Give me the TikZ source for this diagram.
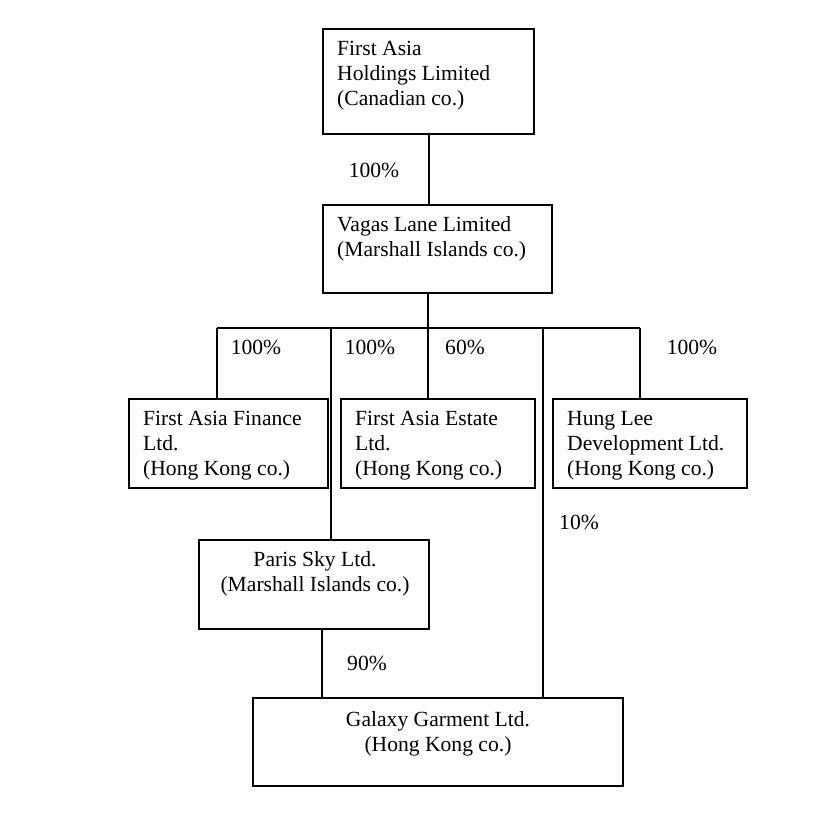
\documentclass[tikz,border=0pt]{standalone}
\usepackage{fontspec}
\setmainfont{Liberation Serif}
\begin{document}
\begin{tikzpicture}[x=1pt,y=-1pt,
  box/.style={draw,line width=2pt,inner sep=0pt,anchor=north west},
  txt/.style={inner sep=0pt,anchor=north west,align=left,font=\fontsize{21.6}{25}\selectfont},
  ctxt/.style={inner sep=0pt,anchor=north,align=center,font=\fontsize{21.6}{25}\selectfont},
  pct/.style={inner sep=0pt,font=\fontsize{21.6}{25}\selectfont},
  link/.style={line width=2pt}]
\useasboundingbox (0,0) rectangle (839,814);
% boxes
\node[box,minimum width=211,minimum height=105] (fah) at (322,28) {};
\node[box,minimum width=229,minimum height=88] (vll) at (322,204) {};
\node[box,minimum width=199,minimum height=89] (faf) at (128,398) {};
\node[box,minimum width=194,minimum height=89] (fae) at (340,398) {};
\node[box,minimum width=194,minimum height=89] (hld) at (552,398) {};
\node[box,minimum width=230,minimum height=89] (psl) at (198,539) {};
\node[box,minimum width=370,minimum height=88] (ggl) at (252,697) {};
% texts
\node[txt] (tfah) at ([shift={(15,10)}]fah.north west) {\strut First Asia\\Holdings Limited\\(Canadian co.)};
\node[txt] (tvll) at ([shift={(15,10)}]vll.north west) {\strut Vagas Lane Limited\\(Marshall Islands co.)};
\node[txt] (tfaf) at ([shift={(15,10)}]faf.north west) {\strut First Asia Finance\\Ltd.\\(Hong Kong co.)};
\node[txt] (tfae) at ([shift={(15,10)}]fae.north west) {\strut First Asia Estate\\Ltd.\\(Hong Kong co.)};
\node[txt] (thld) at ([shift={(15,10)}]hld.north west) {\strut Hung Lee\\Development Ltd.\\(Hong Kong co.)};
\node[ctxt] (tpsl) at ([shift={(1,10)}]psl.north) {\strut Paris Sky Ltd.\\(Marshall Islands co.)};
\node[ctxt] (tggl) at ([shift={(0,12)}]ggl.north) {\strut Galaxy Garment Ltd.\\(Hong Kong co.)};
% bus coordinates
\coordinate (top) at (428,292);
\coordinate (bus) at (428,328);
\coordinate (b1) at (217,328);
\coordinate (b2) at (331,328);
\coordinate (b4) at (543,328);
\coordinate (b5) at (640,328);
\coordinate (pb) at (322,628);
% connectors
\draw[link] (fah.south) -- (fah.south |- vll.north);
\draw[link] (top) -- (bus);
\draw[link] (b1) -- (b5);
\draw[link] (b1) -- (b1 |- faf.north);
\draw[link] (b2) -- (b2 |- psl.north);
\draw[link] (bus) -- (bus |- fae.north);
\draw[link] (b4) -- (b4 |- ggl.north);
\draw[link] (b5) -- (b5 |- hld.north);
\draw[link] (pb) -- (pb |- ggl.north);
% percentages
\node[pct] (p0) at (374,170) {100\%};
\node[pct] (p1) at (256,347) {100\%};
\node[pct] (p2) at (370,347) {100\%};
\node[pct] (p3) at (465,347) {60\%};
\node[pct] (p4) at (692,347) {100\%};
\node[pct] (p5) at (579,522) {10\%};
\node[pct] (p6) at (367,663) {90\%};
\end{tikzpicture}
\end{document}
